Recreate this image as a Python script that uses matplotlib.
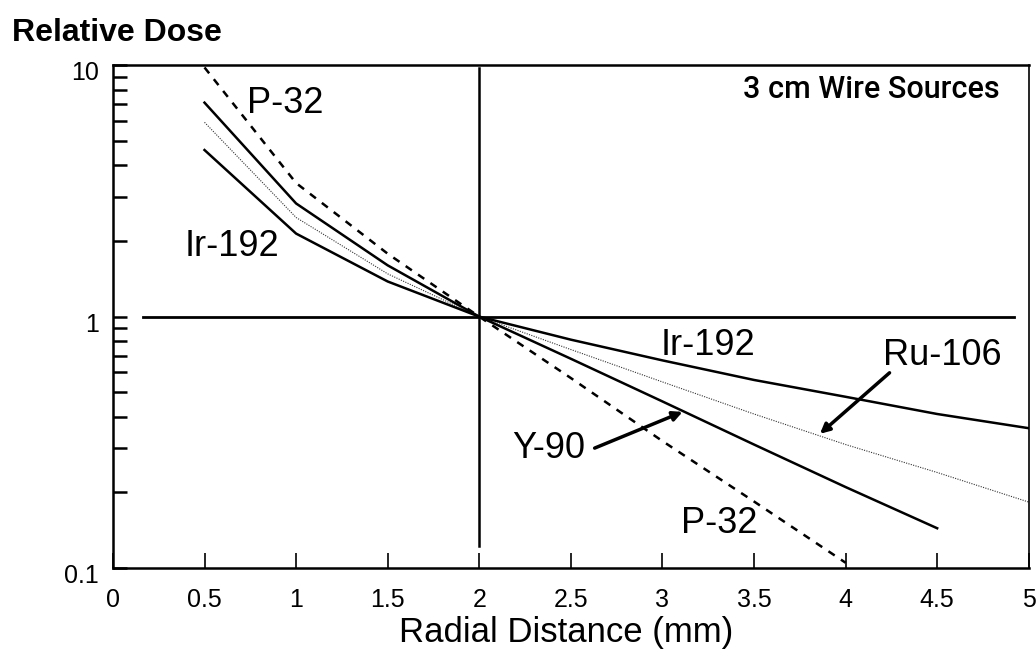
import matplotlib
matplotlib.use("Agg")
import matplotlib.pyplot as plt
import matplotlib.transforms as mtransforms
from matplotlib.ticker import FixedLocator, NullFormatter

# radial distance (mm) and relative dose
x_p32 = [0.5, 1.0, 1.5, 2.0, 2.5, 3.0, 3.5, 4.0]
dose_p32 = [9.8, 3.4, 1.78, 1.0, 0.57, 0.32, 0.184, 0.105]

x_y90 = [0.5, 1.0, 1.5, 2.0, 2.5, 3.0, 3.5, 4.0, 4.5]
dose_y90 = [7.1, 2.82, 1.6, 1.0, 0.68, 0.46, 0.31, 0.21, 0.144]

x_ru106 = [0.5, 1.0, 1.5, 2.0, 2.5, 3.0, 3.5, 4.0, 4.5, 5.0]
dose_ru106 = [5.93, 2.48, 1.48, 1.0, 0.74, 0.55, 0.41, 0.31, 0.24, 0.183]

x_ir192 = [0.5, 1.0, 1.5, 2.0, 2.5, 3.0, 3.5, 4.0, 4.5, 5.0]
dose_ir192 = [4.6, 2.14, 1.38, 1.0, 0.81, 0.67, 0.56, 0.48, 0.41, 0.36]

x_ticks = [0, 0.5, 1, 1.5, 2, 2.5, 3, 3.5, 4, 4.5, 5]
x_tick_labels = ["0", "0.5", "1", "1.5", "2", "2.5", "3", "3.5", "4", "4.5", "5"]
y_ticks = [0.1, 1, 10]
y_tick_labels = ["0.1", "1", "10"]

plt.rcParams['font.family'] = ['Liberation Sans', 'DejaVu Sans']

fig = plt.figure(figsize=(10.36, 6.59), dpi=100)
ax = fig.add_axes([0.109, 0.138, 0.884, 0.763])

ax.set_yscale('log')
ax.set_xlim(0, 5)
ax.set_ylim(0.1, 10)

# reference cross through (2, 1)
ax.plot([0.165, 4.92], [1, 1], color='black', lw=2)
ax.plot([2, 2], [0.122, 9.75], color='black', lw=1.8)

ax.plot(x_p32, dose_p32, color='black', lw=1.8, linestyle=(0, (3, 3)))
ax.plot(x_y90, dose_y90, color='black', lw=1.8)
ax.plot(x_ru106, dose_ru106, color='#333333', lw=0.8, linestyle=(0, (1, 1.2)))
ax.plot(x_ir192, dose_ir192, color='black', lw=1.8)

label_kw = dict(fontsize=26, ha='center', va='center')
ax.text(0.94, 7.05, "P-32", **label_kw)
ax.text(0.65, 1.9, "Ir-192", **label_kw)
ax.text(3.25, 0.766, "Ir-192", **label_kw)
ax.text(4.53, 0.70, "Ru-106", **label_kw)
ax.text(2.38, 0.30, "Y-90", **label_kw)
ax.text(3.31, 0.151, "P-32", **label_kw)
# narrower face for the box title
ax.text(4.84, 8.04, "3 cm Wire Sources", fontsize=22, fontweight='medium',
        family=['Roboto', 'DejaVu Sans'], ha='right', va='center')

arrow_kw = dict(arrowstyle='-|>', color='black', lw=2.5, mutation_scale=14, shrinkA=0, shrinkB=0)
ax.annotate("", xy=(3.86, 0.342), xytext=(4.24, 0.598), arrowprops=arrow_kw)
ax.annotate("", xy=(3.11, 0.418), xytext=(2.63, 0.30), arrowprops=arrow_kw)

ax.xaxis.set_major_locator(FixedLocator(x_ticks))
ax.set_xticklabels(x_tick_labels)
ax.yaxis.set_major_locator(FixedLocator(y_ticks))
ax.set_yticklabels(y_tick_labels)
ax.yaxis.set_minor_locator(FixedLocator([0.2, 0.3, 0.4, 0.5, 0.6, 0.7, 0.8, 0.9,
                                         2, 3, 4, 5, 6, 7, 8, 9]))
ax.yaxis.set_minor_formatter(NullFormatter())

ax.tick_params(axis='x', which='major', direction='in', length=11, width=1.2,
               labelsize=18, pad=14)
ax.tick_params(axis='y', which='both', direction='in', length=10, width=1.8,
               labelsize=18, pad=10)

# y labels sit a little below their ticks in the original
shift = mtransforms.ScaledTranslation(0, -4 / 72, fig.dpi_scale_trans)
for lbl in ax.get_yticklabels():
    lbl.set_transform(lbl.get_transform() + shift)

for side in ['left', 'bottom', 'top']:
    ax.spines[side].set_linewidth(1.8)
ax.spines['right'].set_linewidth(1.2)

ax.set_xlabel("Radial Distance (mm)", fontsize=25, va='center')
ax.xaxis.set_label_coords(0.495, -0.128)
fig.text(0.012, 0.95, "Relative Dose", fontsize=23, fontweight='bold', ha='left', va='center')

fig.savefig("out.png", dpi=100)
